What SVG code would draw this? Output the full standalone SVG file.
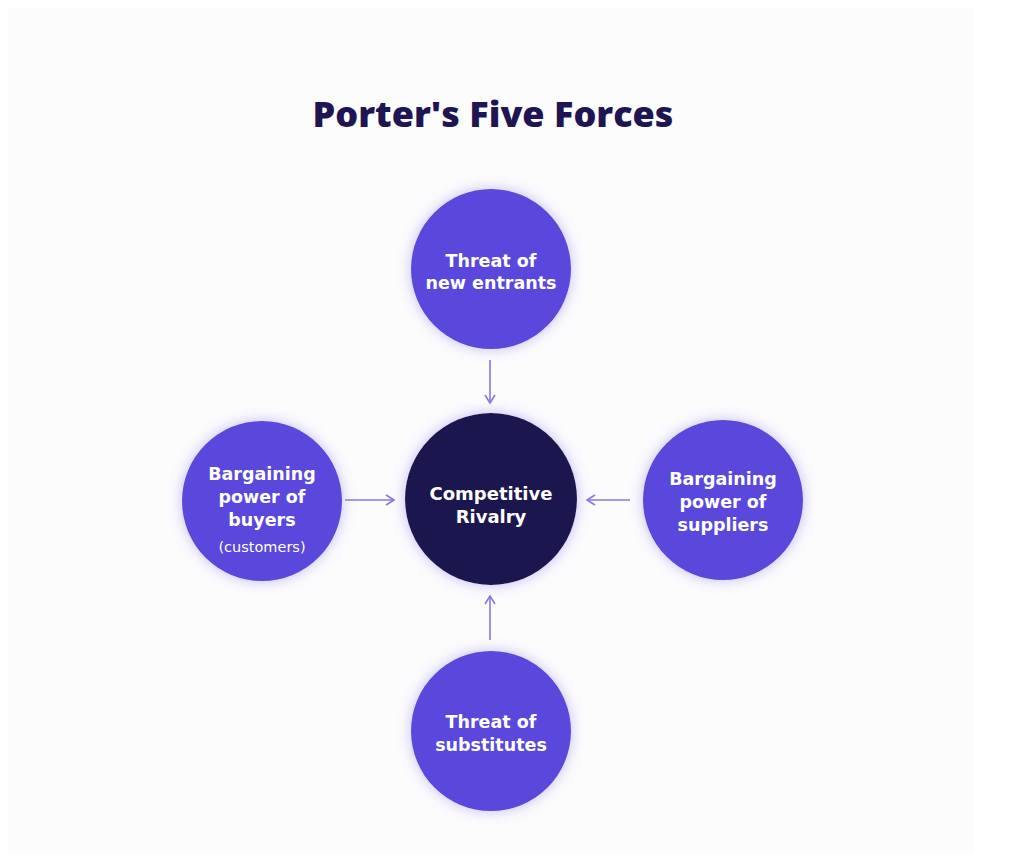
<svg xmlns="http://www.w3.org/2000/svg" width="1024" height="861" viewBox="0 0 1024 861">
<style>
.title{font-family:"Open Sans","Liberation Sans",sans-serif;font-weight:800;font-size:36px;fill:#1f1552;text-anchor:middle}
.lbl{font-family:"DejaVu Sans","Liberation Sans",sans-serif;font-weight:700;font-size:17.5px;fill:#ffffff;text-anchor:middle}
.ctr{font-size:18px}
.small{font-family:"DejaVu Sans","Liberation Sans",sans-serif;font-weight:400;font-size:14.5px;fill:#ffffff;text-anchor:middle}
.force{fill:#5a47dc;filter:url(#glow)}
.core{fill:#1e1650;filter:url(#glow)}
.conn{stroke:#8478e2;stroke-width:1.6;fill:none;marker-end:url(#arr)}
</style>
<defs>
<filter id="glow" x="-30%" y="-30%" width="160%" height="160%">
<feDropShadow dx="0" dy="0" stdDeviation="7" flood-color="#a99ef0" flood-opacity="0.7"/>
</filter>
<marker id="arr" viewBox="0 0 12 12" refX="10" refY="6" markerWidth="12" markerHeight="12" markerUnits="userSpaceOnUse" orient="auto">
<path d="M2,1 L10,6 L2,11" fill="none" stroke="#8478e2" stroke-width="1.6"/>
</marker>
</defs>
<rect width="1024" height="861" fill="#ffffff"/>
<rect x="8" y="8" width="966" height="845" fill="#fcfcfd"/>
<text class="title" x="493" y="127">Porter's Five Forces</text>
<g id="connectors">
<line class="conn" x1="490" y1="360" x2="490" y2="403"/>
<line class="conn" x1="345" y1="500" x2="394" y2="500"/>
<line class="conn" x1="630" y1="500" x2="587" y2="500"/>
<line class="conn" x1="490" y1="640" x2="490" y2="596"/>
</g>
<g id="new-entrants">
<circle class="force" cx="491" cy="269" r="80"/>
<text class="lbl" x="491" y="267">Threat of</text>
<text class="lbl" x="491" y="289">new entrants</text>
</g>
<g id="rivalry">
<circle class="core" cx="491" cy="499" r="86"/>
<text class="lbl ctr" x="491" y="500">Competitive</text>
<text class="lbl ctr" x="491" y="523">Rivalry</text>
</g>
<g id="buyers">
<circle class="force" cx="262" cy="501" r="80"/>
<text class="lbl" x="262" y="480">Bargaining</text>
<text class="lbl" x="262" y="503">power of</text>
<text class="lbl" x="262" y="526">buyers</text>
<text class="small" x="262" y="552">(customers)</text>
</g>
<g id="suppliers">
<circle class="force" cx="723" cy="500" r="80"/>
<text class="lbl" x="723" y="485">Bargaining</text>
<text class="lbl" x="723" y="508">power of</text>
<text class="lbl" x="723" y="531">suppliers</text>
</g>
<g id="substitutes">
<circle class="force" cx="491" cy="731" r="80"/>
<text class="lbl" x="491" y="728">Threat of</text>
<text class="lbl" x="491" y="751">substitutes</text>
</g>
</svg>
